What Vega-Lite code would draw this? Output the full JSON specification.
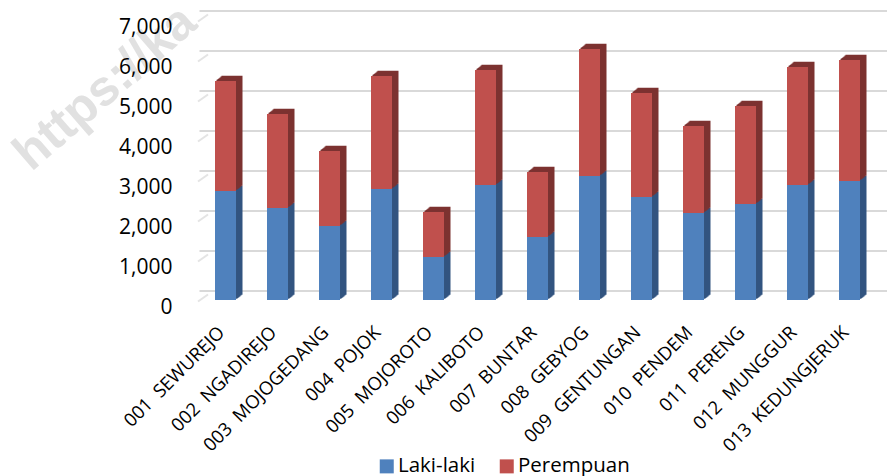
{"$schema":"https://vega.github.io/schema/vega-lite/v6.json","width":676,"height":280,"autosize":"none","padding":{"left":199.5,"top":20,"right":11.5,"bottom":176},"background":"white",
"datasets":{"pop":[
{"desa":"001  SEWUREJO","seri":"Laki-laki","nilai":2725},{"desa":"001  SEWUREJO","seri":"Perempuan","nilai":2750},
{"desa":"002  NGADIREJO","seri":"Laki-laki","nilai":2300},{"desa":"002  NGADIREJO","seri":"Perempuan","nilai":2350},
{"desa":"003  MOJOGEDANG","seri":"Laki-laki","nilai":1850},{"desa":"003  MOJOGEDANG","seri":"Perempuan","nilai":1875},
{"desa":"004  POJOK","seri":"Laki-laki","nilai":2775},{"desa":"004  POJOK","seri":"Perempuan","nilai":2825},
{"desa":"005  MOJOROTO","seri":"Laki-laki","nilai":1075},{"desa":"005  MOJOROTO","seri":"Perempuan","nilai":1125},
{"desa":"006  KALIBOTO","seri":"Laki-laki","nilai":2875},{"desa":"006  KALIBOTO","seri":"Perempuan","nilai":2875},
{"desa":"007  BUNTAR","seri":"Laki-laki","nilai":1575},{"desa":"007  BUNTAR","seri":"Perempuan","nilai":1625},
{"desa":"008  GEBYOG","seri":"Laki-laki","nilai":3100},{"desa":"008  GEBYOG","seri":"Perempuan","nilai":3175},
{"desa":"009  GENTUNGAN","seri":"Laki-laki","nilai":2575},{"desa":"009  GENTUNGAN","seri":"Perempuan","nilai":2600},
{"desa":"010  PENDEM","seri":"Laki-laki","nilai":2175},{"desa":"010  PENDEM","seri":"Perempuan","nilai":2175},
{"desa":"011  PERENG","seri":"Laki-laki","nilai":2400},{"desa":"011  PERENG","seri":"Perempuan","nilai":2450},
{"desa":"012  MUNGGUR","seri":"Laki-laki","nilai":2875},{"desa":"012  MUNGGUR","seri":"Perempuan","nilai":2950},
{"desa":"013  KEDUNGJERUK","seri":"Laki-laki","nilai":2975},{"desa":"013  KEDUNGJERUK","seri":"Perempuan","nilai":3025}],
"ticks":[{"t":0,"desa":"001  SEWUREJO"},{"t":1000,"desa":"001  SEWUREJO"},{"t":2000,"desa":"001  SEWUREJO"},{"t":3000,"desa":"001  SEWUREJO"},{"t":4000,"desa":"001  SEWUREJO"},{"t":5000,"desa":"001  SEWUREJO"},{"t":6000,"desa":"001  SEWUREJO"},{"t":7000,"desa":"001  SEWUREJO"}],
"mark":[{"t":7000,"desa":"001  SEWUREJO","label":"https://ka"}]},
"encoding":{"x":{"field":"desa","type":"nominal","sort":null,"title":null,"scale":{"paddingInner":0,"paddingOuter":0}}},
"layer":[
{"data":{"name":"mark"},"mark":{"type":"text","angle":-41,"align":"left","baseline":"middle","font":"Liberation Sans","fontWeight":"bold","fontSize":50,"color":"#e1e1e1","xOffset":-178,"yOffset":141},"encoding":{"x":{"field":"desa","type":"nominal","sort":null,"bandPosition":0},"y":{"field":"t","type":"quantitative","title":null,"scale":{"domain":[0,7000],"nice":false},"axis":null},"text":{"field":"label"}}},
{"data":{"name":"ticks"},"mark":{"type":"text","align":"right","baseline":"middle","font":"Open Sans","fontSize":21,"color":"#000000","xOffset":-27,"yOffset":8},"encoding":{"x":{"field":"desa","type":"nominal","sort":null,"bandPosition":0},"y":{"field":"t","type":"quantitative","axis":null},"text":{"field":"t","type":"quantitative","format":",d"}}},
{"data":{"name":"ticks"},"mark":{"type":"rule","color":"#d9d9d9","strokeWidth":2,"xOffset":13.5,"yOffset":-9,"x2Offset":5.5},"encoding":{"x":null,"y":{"field":"t","type":"quantitative","axis":null}}},
{"data":{"name":"ticks"},"mark":{"type":"point","shape":"M-1,0.7L1,-0.7","size":100,"color":"#d9d9d9","strokeWidth":2,"filled":false,"yOffset":-2,"xOffset":3.5},"encoding":{"x":{"field":"desa","type":"nominal","sort":null,"bandPosition":0},"y":{"field":"t","type":"quantitative","axis":null}}},
{"data":{"name":"pop"},"mark":{"type":"bar","size":21,"xOffset":6.5,"yOffset":-5.2},"encoding":{"y":{"field":"nilai","type":"quantitative","stack":"zero","axis":null},"order":{"field":"seri","sort":"ascending"},"color":{"field":"seri","type":"nominal","legend":null,"scale":{"domain":["Laki-laki","Perempuan"],"range":["#335580","#7c3231"]}}}},
{"data":{"name":"pop"},"mark":{"type":"bar","size":21,"xOffset":5.5,"yOffset":-4.4},"encoding":{"y":{"field":"nilai","type":"quantitative","stack":"zero","axis":null},"order":{"field":"seri","sort":"ascending"},"color":{"field":"seri","type":"nominal","legend":null,"scale":{"domain":["Laki-laki","Perempuan"],"range":["#335580","#7c3231"]}}}},
{"data":{"name":"pop"},"mark":{"type":"bar","size":21,"xOffset":4.5,"yOffset":-3.6},"encoding":{"y":{"field":"nilai","type":"quantitative","stack":"zero","axis":null},"order":{"field":"seri","sort":"ascending"},"color":{"field":"seri","type":"nominal","legend":null,"scale":{"domain":["Laki-laki","Perempuan"],"range":["#335580","#7c3231"]}}}},
{"data":{"name":"pop"},"mark":{"type":"bar","size":21,"xOffset":3.5,"yOffset":-2.8},"encoding":{"y":{"field":"nilai","type":"quantitative","stack":"zero","axis":null},"order":{"field":"seri","sort":"ascending"},"color":{"field":"seri","type":"nominal","legend":null,"scale":{"domain":["Laki-laki","Perempuan"],"range":["#335580","#7c3231"]}}}},
{"data":{"name":"pop"},"mark":{"type":"bar","size":21,"xOffset":2.5,"yOffset":-2},"encoding":{"y":{"field":"nilai","type":"quantitative","stack":"zero","axis":null},"order":{"field":"seri","sort":"ascending"},"color":{"field":"seri","type":"nominal","legend":null,"scale":{"domain":["Laki-laki","Perempuan"],"range":["#335580","#7c3231"]}}}},
{"data":{"name":"pop"},"mark":{"type":"bar","size":21,"xOffset":1.5,"yOffset":-1.2},"encoding":{"y":{"field":"nilai","type":"quantitative","stack":"zero","axis":null},"order":{"field":"seri","sort":"ascending"},"color":{"field":"seri","type":"nominal","legend":null,"scale":{"domain":["Laki-laki","Perempuan"],"range":["#335580","#7c3231"]}}}},
{"data":{"name":"pop"},"mark":{"type":"bar","size":21},"encoding":{
"x":{"field":"desa","type":"nominal","sort":null,"title":null,"axis":{"orient":"bottom","labelAngle":-45,"labelAlign":"right","labelBaseline":"middle","labelFont":"Open Sans","labelFontSize":18.5,"labelColor":"#000000","labelPadding":29,"labelOffset":-4,"ticks":false,"domain":false,"grid":false,"labelOverlap":false,"labelLimit":300,"labelExpr":"replace(datum.label,'  ','\u00a0\u00a0')"}},
"y":{"field":"nilai","type":"quantitative","stack":"zero","axis":null},
"order":{"field":"seri","sort":"ascending"},
"color":{"field":"seri","type":"nominal","title":null,"scale":{"domain":["Laki-laki","Perempuan"],"range":["#4f81bd","#c0504d"]},"legend":{"orient":"none","legendX":177,"legendY":436,"direction":"horizontal","symbolType":"square","symbolSize":196,"symbolStrokeWidth":0,"symbolOpacity":1,"labelFont":"Open Sans","labelFontSize":20.5,"labelColor":"#000000","columnPadding":21,"labelOffset":1}}}}
],
"resolve":{"scale":{"color":"independent"}},
"config":{"view":{"stroke":null}}}
